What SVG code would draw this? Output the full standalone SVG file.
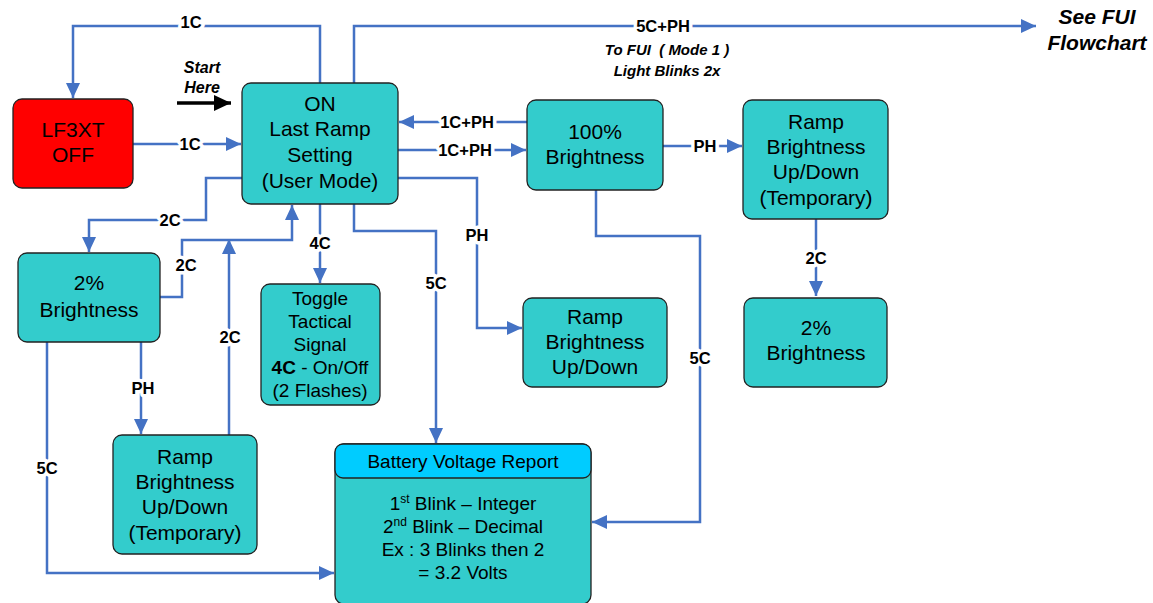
<svg xmlns="http://www.w3.org/2000/svg" width="1153" height="603" viewBox="0 0 1153 603">
<style>
.node{fill:#33cccc;stroke:#222;stroke-width:1.3}
.t{font-family:"Liberation Sans",Arial,sans-serif;font-size:21px;fill:#000;text-anchor:middle}
.s{font-family:"Liberation Sans",Arial,sans-serif;font-size:19px;fill:#000;text-anchor:middle}
.c{fill:none;stroke:#4472c4;stroke-width:2.5}
.lbl{font-family:"Liberation Sans",Arial,sans-serif;font-size:16.5px;font-weight:bold;fill:#000;text-anchor:middle;stroke:#fff;stroke-width:7;paint-order:stroke;stroke-linejoin:round}
.bi{font-family:"Liberation Sans",Arial,sans-serif;font-weight:bold;font-style:italic;fill:#000;text-anchor:middle}
</style>
<defs>
<marker id="a" markerUnits="userSpaceOnUse" markerWidth="16" markerHeight="14" refX="15" refY="7" orient="auto"><path d="M0,0 L15,7 L0,14 z" fill="#4472c4"/></marker>
<marker id="k" markerUnits="userSpaceOnUse" markerWidth="18" markerHeight="16" refX="17" refY="8" orient="auto"><path d="M0,0 L17,8 L0,16 z" fill="#000"/></marker>
</defs>
<rect width="1153" height="603" fill="#fff"/>
<g id="connectors">
<path class="c" d="M320,83 V26 H73 V98" marker-end="url(#a)"/>
<path class="c" d="M133,144 H241" marker-end="url(#a)"/>
<path d="M177,103 H231" stroke="#000" stroke-width="3.5" fill="none" marker-end="url(#k)"/>
<path class="c" d="M354,83 V26 H1036" marker-end="url(#a)"/>
<path class="c" d="M527,122 H399" marker-end="url(#a)"/>
<path class="c" d="M398,150 H526" marker-end="url(#a)"/>
<path class="c" d="M663,146 H742" marker-end="url(#a)"/>
<path class="c" d="M816,219 V296" marker-end="url(#a)"/>
<path class="c" d="M596,190 V236 H700 V522 H592" marker-end="url(#a)"/>
<path class="c" d="M398,178 H477 V328 H522" marker-end="url(#a)"/>
<path class="c" d="M354,204 V231 H436 V443" marker-end="url(#a)"/>
<path class="c" d="M320,204 V283" marker-end="url(#a)"/>
<path class="c" d="M242,178 H206 V220 H89 V252" marker-end="url(#a)"/>
<path class="c" d="M160,297 H182 V240 H292 V205" marker-end="url(#a)"/>
<path class="c" d="M229,435 V239" marker-end="url(#a)"/>
<path class="c" d="M141,342 V434" marker-end="url(#a)"/>
<path class="c" d="M47,342 V573 H334" marker-end="url(#a)"/>
<text class="lbl" x="191" y="28">1C</text>
<text class="lbl" x="190" y="150">1C</text>
<text class="lbl" x="663" y="32">5C+PH</text>
<text class="lbl" x="467" y="128">1C+PH</text>
<text class="lbl" x="465" y="156">1C+PH</text>
<text class="lbl" x="705" y="152">PH</text>
<text class="lbl" x="816" y="264">2C</text>
<text class="lbl" x="700" y="364">5C</text>
<text class="lbl" x="477" y="241">PH</text>
<text class="lbl" x="436" y="289">5C</text>
<text class="lbl" x="320" y="249">4C</text>
<text class="lbl" x="170" y="226">2C</text>
<text class="lbl" x="186" y="271">2C</text>
<text class="lbl" x="230" y="343">2C</text>
<text class="lbl" x="143" y="394">PH</text>
<text class="lbl" x="47" y="474">5C</text>
</g>
<g id="start">
<text class="bi" x="202" y="73" font-size="16">Start</text>
<text class="bi" x="202" y="93" font-size="16">Here</text>
</g>
<g id="fui-note">
<text class="bi" x="667" y="55" font-size="15" xml:space="preserve">To FUI  ( Mode 1 )</text>
<text class="bi" x="667" y="76" font-size="15">Light Blinks 2x</text>
</g>
<g id="see-fui">
<text class="bi" x="1097" y="24" font-size="21">See FUI</text>
<text class="bi" x="1097" y="50" font-size="21">Flowchart</text>
</g>
<g id="off">
<rect x="13" y="99" width="120" height="89" rx="9" fill="#ff0000" stroke="#222" stroke-width="1.3"/>
<text class="t" x="73" y="137">LF3XT</text>
<text class="t" x="73" y="162">OFF</text>
</g>
<g id="on">
<rect class="node" x="242" y="83" width="156" height="121" rx="9"/>
<text class="t" x="320" y="111">ON</text>
<text class="t" x="320" y="136">Last Ramp</text>
<text class="t" x="320" y="162">Setting</text>
<text class="t" x="320" y="188">(User Mode)</text>
</g>
<g id="b100">
<rect class="node" x="527" y="100" width="136" height="90" rx="9"/>
<text class="t" x="595" y="139">100%</text>
<text class="t" x="595" y="164">Brightness</text>
</g>
<g id="ramp-temp-right">
<rect class="node" x="743" y="100" width="145" height="119" rx="9"/>
<text class="t" x="816" y="129">Ramp</text>
<text class="t" x="816" y="154">Brightness</text>
<text class="t" x="816" y="179">Up/Down</text>
<text class="t" x="816" y="205">(Temporary)</text>
</g>
<g id="b2-right">
<rect class="node" x="744" y="298" width="143" height="89" rx="9"/>
<text class="t" x="816" y="335">2%</text>
<text class="t" x="816" y="360">Brightness</text>
</g>
<g id="ramp-mid">
<rect class="node" x="523" y="298" width="144" height="89" rx="9"/>
<text class="t" x="595" y="324">Ramp</text>
<text class="t" x="595" y="349">Brightness</text>
<text class="t" x="595" y="374">Up/Down</text>
</g>
<g id="toggle">
<rect class="node" x="261" y="284" width="119" height="121" rx="9"/>
<text class="s" x="320" y="305">Toggle</text>
<text class="s" x="320" y="328">Tactical</text>
<text class="s" x="320" y="351">Signal</text>
<text class="s" x="320" y="374"><tspan font-weight="bold">4C</tspan> - On/Off</text>
<text class="s" x="320" y="397">(2 Flashes)</text>
</g>
<g id="b2-left">
<rect class="node" x="18" y="253" width="142" height="89" rx="9"/>
<text class="t" x="89" y="290">2%</text>
<text class="t" x="89" y="317">Brightness</text>
</g>
<g id="ramp-temp-left">
<rect class="node" x="113" y="435" width="144" height="119" rx="9"/>
<text class="t" x="185" y="464">Ramp</text>
<text class="t" x="185" y="489">Brightness</text>
<text class="t" x="185" y="514">Up/Down</text>
<text class="t" x="185" y="540">(Temporary)</text>
</g>
<g id="battery">
<rect class="node" x="335" y="444" width="256" height="160" rx="9"/>
<rect x="335" y="444" width="256" height="34" rx="8" fill="#00ccff" stroke="#222" stroke-width="1.3"/>
<text class="s" x="463" y="468">Battery Voltage Report</text>
<text class="s" x="463" y="510">1<tspan font-size="12" dy="-7">st</tspan><tspan dy="7"> Blink – Integer</tspan></text>
<text class="s" x="463" y="533">2<tspan font-size="12" dy="-7">nd</tspan><tspan dy="7"> Blink – Decimal</tspan></text>
<text class="s" x="463" y="556">Ex : 3 Blinks then 2</text>
<text class="s" x="463" y="579">= 3.2 Volts</text>
</g>
</svg>
